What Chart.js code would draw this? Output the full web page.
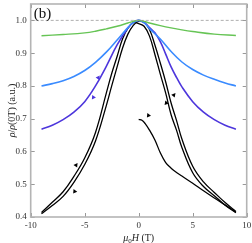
<!DOCTYPE html>
<html><head><meta charset="utf-8">
<script src="https://cdn.jsdelivr.net/npm/chart.js@4"></script>
<style>html,body{margin:0;padding:0;background:#fff}</style>
</head><body>
<canvas id="c" width="252" height="243"></canvas>
<script>
// ---- data ----
const xTicks = [-10, -5, 0, 5, 10];
const yTicks = [0.4, 0.5, 0.6, 0.7, 0.8, 0.9, 1.0];
const refLevel = 1.0;

const greenH = [-9,-7,-5,-4,-3,-2,-1,-0.5,0,0.5,1,2,3,4,5,7,9];
const greenV = [0.953,0.957,0.962,0.967,0.974,0.982,0.992,0.997,1.0,0.997,0.992,0.984,0.977,0.971,0.966,0.958,0.954];

const blueH = [-9,-8,-7,-6,-5,-4,-3,-2,-1,-0.5,0,0.5,1,2,3,4,5,6,7,8,9];
const blueV = [0.80,0.807,0.816,0.829,0.847,0.872,0.903,0.94,0.978,0.993,1.0,0.993,0.975,0.943,0.905,0.873,0.85,0.833,0.82,0.809,0.80];

const purpleH = [-9,-8,-7,-6,-5,-4,-3,-2,-1,-0.5,0,0.5,1,1.5,2,2.5,3,3.5,4,5,6,7,8,9];
const purpleV = [0.668,0.68,0.697,0.72,0.752,0.80,0.86,0.925,0.977,0.994,1.0,0.993,0.978,0.962,0.935,0.897,0.858,0.826,0.797,0.752,0.72,0.697,0.68,0.668];

const loopH = [-9,-8,-7,-6,-5,-4,-3,-2.5,-2,-1.5,-1,-0.5,0,0.5,1,1.5,2,2.5,3,3.5,4,5,6,7,8,9];
const loopUpV = [0.41,0.435,0.463,0.506,0.56,0.632,0.74,0.80,0.858,0.915,0.958,0.985,0.998,0.995,0.972,0.925,0.87,0.812,0.748,0.695,0.638,0.555,0.507,0.475,0.444,0.417];
const loopDownV = [0.414,0.445,0.477,0.524,0.58,0.658,0.778,0.838,0.89,0.943,0.976,0.993,0.99,0.982,0.952,0.896,0.836,0.778,0.712,0.665,0.612,0.535,0.493,0.465,0.436,0.413];

const virginH = [0,0.3,0.6,1,1.5,2,2.5,3,3.5,4,5,6,7,8,9];
const virginV = [0.698,0.695,0.685,0.665,0.635,0.596,0.566,0.549,0.536,0.525,0.503,0.48,0.458,0.437,0.415];

const purpleArrowH = [-3.75, -4.2];
const purpleArrowV = [0.825, 0.765];
const purpleArrowRot = [35, 215];
const blackArrowH = [-5.8, -5.93, 3.25, 2.55, 0.9];
const blackArrowV = [0.558, 0.478, 0.772, 0.748, 0.71];
const blackArrowRot = [35, 215, 160, 340, 95];

const COL = {green:'#66c455', blue:'#3a8bff', purple:'#4d36dc', black:'#000'};
const pts = (h, v) => h.map((x, i) => ({x, y: v[i]}));

const SERIF = '"Liberation Serif", "DejaVu Serif", serif';

function line(data, color, w) {
  return {data, borderColor: color, borderWidth: w, pointRadius: 0, fill: false,
          tension: 0.4};
}
function arrows(data, color, rot) {
  return {data, showLine: false, pointStyle: 'triangle', pointRadius: 2.6,
          pointRotation: rot, backgroundColor: color, borderColor: color, borderWidth: 0};
}

const deco = {
  id: 'deco',
  afterDraw(chart) {
    const c = chart.ctx, a = chart.chartArea, xs = chart.scales.x, ys = chart.scales.y;
    c.save();
    c.strokeStyle = '#999'; c.lineWidth = 1;
    c.beginPath();
    xTicks.forEach(v => { const p = Math.round(xs.getPixelForValue(v)) + 0.5;
      c.moveTo(p, a.bottom); c.lineTo(p, a.bottom - 4);
      c.moveTo(p, a.top); c.lineTo(p, a.top + 4); });
    yTicks.forEach(v => { const p = Math.round(ys.getPixelForValue(v)) + 0.5;
      c.moveTo(a.left, p); c.lineTo(a.left + 4, p);
      c.moveTo(a.right, p); c.lineTo(a.right - 4, p); });
    c.stroke();
    c.strokeStyle = '#b4b4b4'; c.lineWidth = 1.6;
    c.strokeRect(a.left, a.top, a.right - a.left, a.bottom - a.top);
    c.fillStyle = '#111'; c.font = '15px ' + SERIF; c.textBaseline = 'alphabetic';
    c.textAlign = 'left';
    c.fillText('(b)', a.left + 3, a.top + 14);
    const segX = [
      {t:'μ', f:'italic 10px '+SERIF, dy:0},
      {t:'0', f:'7px '+SERIF, dy:2},
      {t:'H', f:'italic 10px '+SERIF, dy:0},
      {t:' (T)', f:'10px '+SERIF, dy:0}];
    drawRich(c, segX, (a.left + a.right) / 2, 241);
    c.save();
    c.translate(11, (a.top + a.bottom) / 2);
    c.rotate(-Math.PI / 2);
    const segY = [
      {t:'ρ', f:'italic 10px '+SERIF, dy:0},
      {t:'/', f:'10px '+SERIF, dy:0},
      {t:'ρ', f:'italic 10px '+SERIF, dy:0},
      {t:'(0T) (a.u.)', f:'10px '+SERIF, dy:0}];
    drawRich(c, segY, 0, 3.5);
    c.restore();
    c.restore();
  }
};
function drawRich(c, segs, cx, y) {
  let w = 0;
  segs.forEach(s => { c.font = s.f; s.w = c.measureText(s.t).width; w += s.w; });
  let x = cx - w / 2;
  c.fillStyle = '#222'; c.textAlign = 'left'; c.textBaseline = 'alphabetic';
  segs.forEach(s => { c.font = s.f; c.fillText(s.t, x, y + s.dy); x += s.w; });
}

new Chart(document.getElementById('c'), {
  type: 'line',
  data: { datasets: [
    Object.assign(line([{x:-10,y:refLevel},{x:10,y:refLevel}], '#9a9a9a', 0.8), {borderDash:[3,2], tension:0}),
    line(pts(greenH, greenV), COL.green, 1.4),
    line(pts(blueH, blueV), COL.blue, 1.6),
    line(pts(purpleH, purpleV), COL.purple, 1.6),
    line(pts(loopH, loopUpV), COL.black, 1.3),
    line(pts(loopH, loopDownV), COL.black, 1.3),
    line(pts(virginH, virginV), COL.black, 1.3),
    arrows(pts(purpleArrowH, purpleArrowV), COL.purple, purpleArrowRot),
    arrows(pts(blackArrowH, blackArrowV), COL.black, blackArrowRot)
  ]},
  options: {
    responsive: false, animation: false, devicePixelRatio: 1,
    layout: { padding: {top: 3, right: 5.3, left: 0, bottom: 0} },
    plugins: { legend: {display: false}, tooltip: {enabled: false} },
    scales: {
      x: { type: 'linear', min: -10, max: 10,
        afterBuildTicks: s => { s.ticks = xTicks.map(v => ({value: v})); },
        afterFit: s => { s.height = 26; s.paddingLeft = 0; s.paddingRight = 0; },
        grid: {display: false, drawTicks: false}, border: {display: false},
        ticks: { padding: 3, font: {family: SERIF, size: 9}, color: '#333',
                 maxRotation: 0, autoSkip: false, callback: v => String(v) } },
      y: { type: 'linear', min: 0.4, max: 1.05,
        afterBuildTicks: s => { s.ticks = yTicks.map(v => ({value: v})); },
        afterFit: s => { s.width = 30.7; s.paddingTop = 0; s.paddingBottom = 0; },
        grid: {display: false, drawTicks: false}, border: {display: false},
        ticks: { padding: 4, font: {family: SERIF, size: 9}, color: '#333',
                 autoSkip: false, callback: v => v.toFixed(1) } }
    }
  },
  plugins: [deco]
});
</script>
</body></html>
